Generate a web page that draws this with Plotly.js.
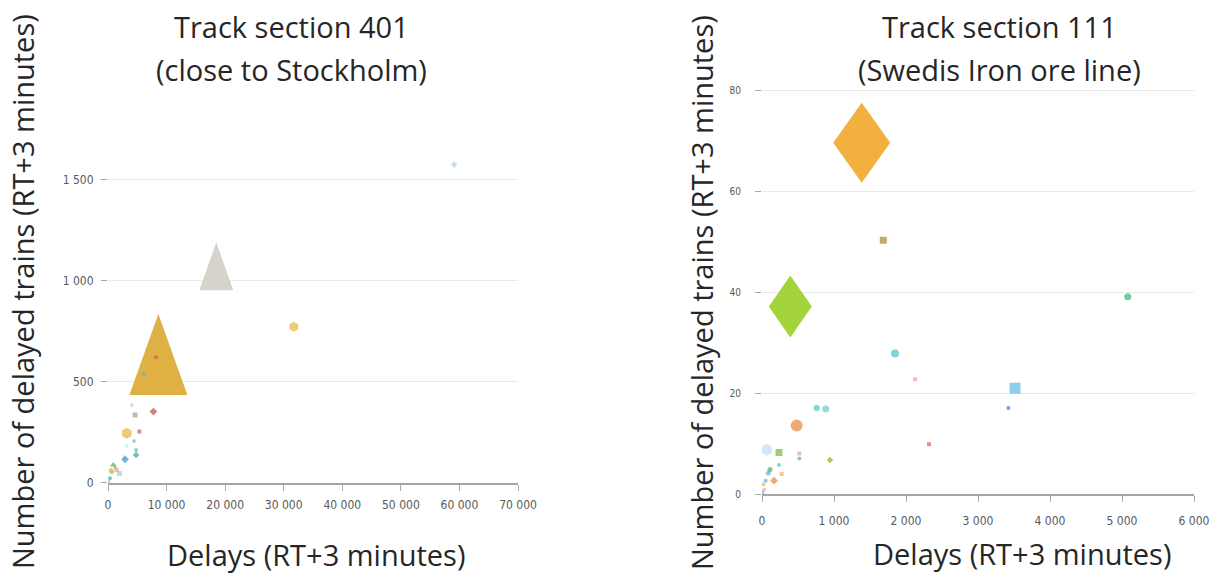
<!DOCTYPE html>
<html>
<head>
<meta charset="utf-8">
<script src="https://cdn.plot.ly/plotly-3.0.1.min.js"></script>
<style>html,body{margin:0;padding:0;background:#fff;}#chart{width:1217px;height:575px;}</style>
</head>
<body>
<div id="chart"></div>
<script>
// ---------- DATA ----------
// Track section 401 (close to Stockholm): small series markers
const s401Delays = [59100, 31730, 8170, 6160, 4060, 4620, 7760, 3200, 5360, 4450, 3200, 4800, 4800, 2910, 910, 1490, 1940, 630, 460, 340, 100, 1200];
const s401Trains = [1575, 772, 621, 538, 385, 335, 352, 245, 253, 206, 182, 162, 137, 116, 88, 63, 46, 55, 63, 22, 5, 75];
// Track section 401: large series markers (triangles)
const s401BigDelays = [8600, 18490];
const s401BigTrains = [635, 1071];

// Track section 111 (Swedish iron ore line): small series markers
const s111Delays = [1685, 5080, 1847, 2125, 3514, 3421, 760, 885, 481, 2320, 65, 236, 518, 518, 944, 236, 111, 88, 167, 273, 51, 30, 20, 5];
const s111Trains = [50.3, 39.1, 27.9, 22.8, 21.0, 17.1, 17.1, 16.9, 13.6, 9.9, 8.8, 8.3, 8.1, 7.1, 6.8, 5.8, 4.9, 4.2, 2.7, 4.0, 2.7, 0.9, 2.0, 0.3];
// Track section 111: large series markers (diamonds)
const s111BigDelays = [1385, 393];
const s111BigTrains = [69.6, 37.2];

// Tick labels
const x401Ticks = [0, 10000, 20000, 30000, 40000, 50000, 60000, 70000];
const x401Labels = ['0', '10 000', '20 000', '30 000', '40 000', '50 000', '60 000', '70 000'];
const y401Ticks = [0, 500, 1000, 1500];
const y401Labels = ['0', '500', '1 000', '1 500'];
const x111Ticks = [0, 1000, 2000, 3000, 4000, 5000, 6000];
const x111Labels = ['0', '1 000', '2 000', '3 000', '4 000', '5 000', '6 000'];
const y111Ticks = [0, 20, 40, 60, 80];
const y111Labels = ['0', '20', '40', '60', '80'];

// ---------- STYLES ----------
const s401Colors = ['#A8CFEA', '#E6B93A', '#D9534F', '#6FB7C0', '#B0C8C8', '#A0A0A0', '#C84A40', '#E4B23E', '#D85A50', '#5FB0B0', '#C8E0F0', '#5FB8B8', '#3E9E8E', '#3A8ED0', '#4CAF50', '#F0A060', '#9ACCE8', '#8BC34A', '#E8C040', '#40B0A0', '#88C0E0', '#E87070'];
const s401Symbols = ['diamond', 'hexagon', 'circle', 'square', 'square', 'square', 'diamond', 'hexagon', 'square', 'square', 'square', 'circle', 'diamond', 'diamond', 'triangle-up', 'square', 'square', 'circle', 'circle', 'circle', 'circle', 'circle'];
const s401Sizes = [5, 10, 4, 4, 3, 5, 6, 11, 4, 3, 3, 4, 5, 6, 6, 4, 5, 5, 4, 4, 4, 3];
const s401BigColors = ['#DFB044', '#D5D3CB'];
const s401BigW = [58, 34];
const s401BigH = [81, 48];

const s111Colors = ['#A58A2C', '#3CB371', '#4FC0C0', '#F0A0A0', '#5DB8E8', '#3A7BD5', '#4FC0C0', '#6CC8C8', '#E8883A', '#E06060', '#BEE0F4', '#7CB342', '#F0A0A0', '#4DB6AC', '#A4B000', '#4FC0C0', '#4CAF50', '#5DADE2', '#E8883A', '#F0B060', '#5DADE2', '#BDBDBD', '#E8C040', '#A0A0A0'];
const s111Symbols = ['square', 'circle', 'circle', 'square', 'square', 'circle', 'circle', 'circle', 'circle', 'square', 'hexagon', 'square', 'square', 'circle', 'diamond', 'circle', 'circle', 'circle', 'diamond', 'square', 'circle', 'circle', 'circle', 'circle'];
const s111Sizes = [7, 7, 8, 4, 11, 4, 6, 7, 12, 4, 12, 7, 4, 4, 5, 4, 5, 5, 6, 4, 4, 4, 4, 4];
const s111BigColors = ['#F2B13E', '#A4D43C'];
const s111BigW = [57, 43];
const s111BigH = [80, 62];

const W = 1217, H = 575;
const FONT = '"Open Sans", Lato, sans-serif';
const TICKFONT = {family: '"Liberation Sans Narrow", "DejaVu Sans Condensed", "Arial Narrow", sans-serif', size: 12, color: '#595959'};
const px = v => v / W;
const py = v => 1 - v / H;

function triPath(w, h) { return `M ${-w/2},${-h/2} L ${w/2},${-h/2} L 0,${h/2} Z`; }
function diaPath(w, h) { return `M 0,${h/2} L ${w/2},0 L 0,${-h/2} L ${-w/2},0 Z`; }

const shapes = [];
s401BigDelays.forEach((d, i) => shapes.push({
  type: 'path', xref: 'x', yref: 'y', xsizemode: 'pixel', ysizemode: 'pixel',
  xanchor: d, yanchor: s401BigTrains[i], path: triPath(s401BigW[i], s401BigH[i]),
  fillcolor: s401BigColors[i], line: {width: 0}, layer: 'between'
}));
s111BigDelays.forEach((d, i) => shapes.push({
  type: 'path', xref: 'x2', yref: 'y2', xsizemode: 'pixel', ysizemode: 'pixel',
  xanchor: d, yanchor: s111BigTrains[i], path: diaPath(s111BigW[i], s111BigH[i]),
  fillcolor: s111BigColors[i], line: {width: 0}, layer: 'between'
}));

const traces = [
  {type: 'scatter', mode: 'markers', x: s401Delays, y: s401Trains, xaxis: 'x', yaxis: 'y',
   marker: {color: s401Colors, symbol: s401Symbols, size: s401Sizes, line: {width: 0}}, hoverinfo: 'x+y', showlegend: false},
  {type: 'scatter', mode: 'markers', x: s111Delays, y: s111Trains, xaxis: 'x2', yaxis: 'y2',
   marker: {color: s111Colors, symbol: s111Symbols, size: s111Sizes, line: {width: 0}}, hoverinfo: 'x+y', showlegend: false}
];

const xBase = {showgrid: false, zeroline: false, showline: true, linecolor: '#A6A6A6', linewidth: 2,
  ticks: 'outside', ticklen: 6, tickcolor: '#A6A6A6', tickwidth: 1, tickfont: TICKFONT, fixedrange: true,
  ticklabelstandoff: 4};
const yBase = {showgrid: true, gridcolor: '#E9E9E9', gridwidth: 1, zeroline: false, showline: false,
  ticks: 'outside', ticklen: 6, tickcolor: '#A6A6A6', tickwidth: 1, tickfont: TICKFONT, fixedrange: true};

const layout = {
  width: W, height: H,
  margin: {l: 0, r: 0, t: 0, b: 0},
  paper_bgcolor: '#fff', plot_bgcolor: 'rgba(0,0,0,0)',
  showlegend: false,
  xaxis: Object.assign({}, xBase, {domain: [px(108), px(518)], range: [0, 70000], anchor: 'y',
    tickmode: 'array', tickvals: x401Ticks, ticktext: x401Labels}),
  yaxis: Object.assign({}, yBase, {domain: [py(482.7), py(149.4)], range: [0, 1650], anchor: 'x',
    tickmode: 'array', tickvals: y401Ticks, ticktext: y401Labels, ticklabelstandoff: 5}),
  xaxis2: Object.assign({}, xBase, {domain: [px(762), px(1194)], range: [0, 6000], anchor: 'y2',
    tickmode: 'array', tickvals: x111Ticks, ticktext: x111Labels, ticklabelstandoff: 8}),
  yaxis2: Object.assign({}, yBase, {domain: [py(494.3), py(80.2)], range: [0, 82], anchor: 'x2',
    tickmode: 'array', tickvals: y111Ticks, ticktext: y111Labels, ticklabelstandoff: 12,
    tickfont: Object.assign({}, TICKFONT, {size: 10})}),
  shapes: shapes,
  annotations: [
    {text: 'Track section 401', x: px(291), y: py(26)},
    {text: '(close to Stockholm)', x: px(291), y: py(70)},
    {text: 'Track section 111', x: px(999), y: py(26)},
    {text: '(Swedis Iron ore line)', x: px(999), y: py(70)},
    {text: 'Delays (RT+3 minutes)', x: px(316), y: py(554)},
    {text: 'Delays (RT+3 minutes)', x: px(1022), y: py(575), yanchor: 'bottom'},
    {text: 'Number of delayed trains (RT+3 minutes)', x: px(22), y: py(292), textangle: -90},
    {text: 'Number of delayed trains (RT+3 minutes)', x: px(701), y: py(292), textangle: -90}
  ].map(a => Object.assign({xref: 'paper', yref: 'paper', xanchor: 'center', yanchor: 'middle',
    showarrow: false, font: {family: FONT, size: 29, color: '#262626'}}, a))
};

Plotly.newPlot('chart', traces, layout, {displayModeBar: false, staticPlot: true});
</script>
</body>
</html>
